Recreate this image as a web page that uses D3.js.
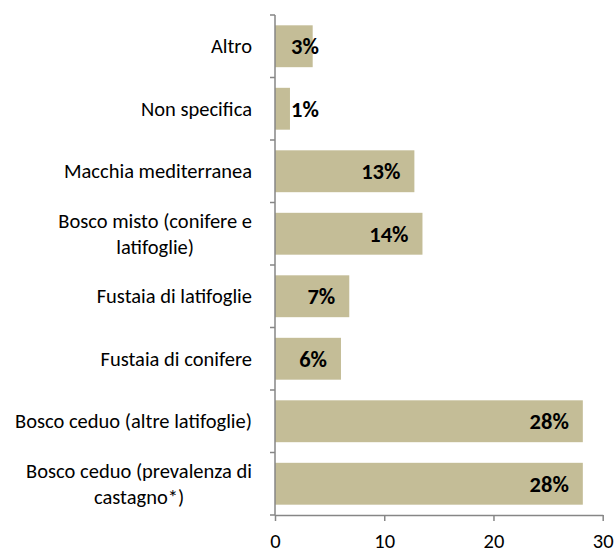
<!DOCTYPE html>
<html>
<head>
<meta charset="utf-8">
<script src="https://cdn.jsdelivr.net/npm/d3@7"></script>
<style>
  body { margin: 0; background: #fff; }
  text { font-family: Calibri, Carlito, Lato, sans-serif; }
</style>
</head>
<body>
<svg id="chart" width="615" height="557"></svg>
<script>
// top to bottom
const categories = [
  "Altro",
  "Non specifica",
  "Macchia mediterranea",
  "Bosco misto (conifere e latifoglie)",
  "Fustaia di latifoglie",
  "Fustaia di conifere",
  "Bosco ceduo (altre latifoglie)",
  "Bosco ceduo (prevalenza di castagno*)"
]
const labelLines = [
  ["Altro"],
  ["Non specifica"],
  ["Macchia mediterranea"],
  ["Bosco misto (conifere e", "latifoglie)"],
  ["Fustaia di latifoglie"],
  ["Fustaia di conifere"],
  ["Bosco ceduo (altre latifoglie)"],
  ["Bosco ceduo (prevalenza di", "castagno*)"]
]
const values = [3.45, 1.37, 12.76, 13.5, 6.8, 6.04, 28.18, 28.18]
const xTicks = [0, 10, 20, 30]

const axisColor = "#868686"
const barColor = "#c4bd97"

const svg = d3.select("#chart")

const x = d3.scaleLinear().domain([0, 30]).range([275, 602.7])
const y = d3.scaleBand()
  .domain(categories)
  .range([15, 515])
  .paddingInner(0.33)
  .paddingOuter(0.165)

const data = categories.map((c, i) => ({ cat: c, value: values[i], lines: labelLines[i] }))

// bars
svg.append("g")
  .selectAll("rect")
  .data(data)
  .enter()
  .append("rect")
  .attr("x", x(0))
  .attr("y", d => y(d.cat))
  .attr("width", d => x(d.value) - x(0))
  .attr("height", y.bandwidth())
  .attr("fill", barColor)

// left axis line + ticks at band boundaries
const left = svg.append("g").attr("stroke", axisColor).attr("stroke-width", 1.5)
left.append("line")
  .attr("x1", x(0)).attr("x2", x(0))
  .attr("y1", y.range()[0]).attr("y2", y.range()[1])
left.selectAll("line.tick")
  .data(d3.range(categories.length + 1))
  .enter()
  .append("line")
  .attr("class", "tick")
  .attr("x1", x(0) - 5).attr("x2", x(0))
  .attr("y1", i => y.range()[0] + i * y.step())
  .attr("y2", i => y.range()[0] + i * y.step())

// bottom axis
const bottom = svg.append("g")
  .attr("transform", `translate(0,${y.range()[1]})`)
  .call(d3.axisBottom(x).tickValues(xTicks).tickSize(6).tickSizeOuter(0).tickPadding(12))
bottom.select(".domain").attr("stroke", axisColor).attr("stroke-width", 1.5)
bottom.selectAll(".tick line").attr("stroke", axisColor).attr("stroke-width", 1.5)
bottom.selectAll(".tick text")
  .attr("fill", "#000")
  .style("font-size", "20.5px")
  .style("font-family", "Calibri, Carlito, Lato, sans-serif")

// category labels
const catRight = 252
const lineH = 26
svg.append("g")
  .selectAll("g")
  .data(data)
  .enter()
  .append("g")
  .each(function (d) {
    const g = d3.select(this)
    const cy = y(d.cat) + y.bandwidth() / 2
    const n = d.lines.length
    const texts = d.lines.map((ln, i) =>
      g.append("text")
        .attr("y", cy + (i - (n - 1) / 2) * lineH)
        .attr("dy", "0.35em")
        .attr("font-size", 20.5)
        .attr("fill", "#000")
        .text(ln)
    )
    const maxW = d3.max(texts, t => t.node().getComputedTextLength())
    const cx = catRight - maxW / 2
    texts.forEach(t => t.attr("x", cx).attr("text-anchor", "middle"))
  })

// value labels (inside end)
svg.append("g")
  .selectAll("text")
  .data(data)
  .enter()
  .append("text")
  .attr("y", d => y(d.cat) + y.bandwidth() / 2)
  .attr("dy", "0.35em")
  .attr("font-size", 22.5)
  .attr("font-weight", "bold")
  .attr("fill", "#000")
  .attr("text-anchor", "end")
  .text(d => Math.round(d.value) + "%")
  .each(function (d) {
    const w = this.getComputedTextLength()
    d3.select(this).attr("x", Math.max(x(d.value) - 14, x(0) + 16 + w))
  })
</script>
</body>
</html>
